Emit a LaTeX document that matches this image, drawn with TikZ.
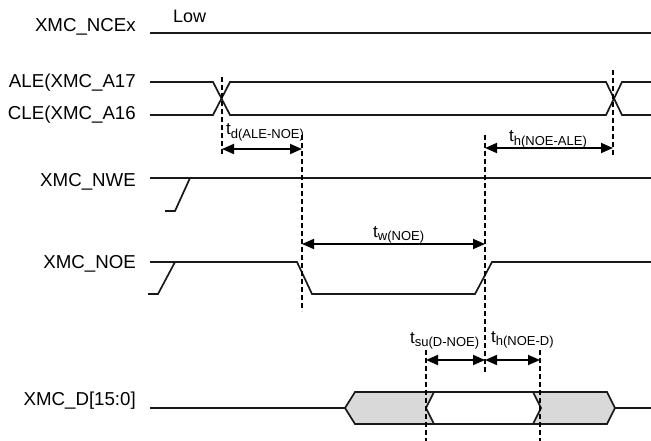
\documentclass[tikz,border=0pt]{standalone}
\usepackage{fontspec}
\setmainfont{Liberation Sans}
\usetikzlibrary{arrows.meta,%
		calc,%
		positioning}
\newcommand{\tpar}[1]{t\raisebox{-3.5pt}{\fontsize{13}{13}\selectfont #1}}
\tikzset{segnale/.style={line width=1.7pt,color=black!90},
	tratt/.style={line width=1.4pt,dash pattern=on 5pt off 3pt},
	quota/.style={line width=1.8pt,{Triangle[length=12pt,width=10pt]}-{Triangle[length=12pt,width=10pt]}},
	nome/.style={anchor=base east,inner sep=0pt,font=\fontsize{18.7}{20}\selectfont},
	tempo/.style={anchor=base west,inner sep=0pt,font=\fontsize{17}{20}\selectfont}}

\begin{document}
\begin{tikzpicture}[x=1pt,y=-1pt]
\useasboundingbox (0,0) rectangle (651,441);
%nomi dei segnali
\node[nome] (nce) at (136,32) {XMC\_NCEx};
\node[nome] (ale) at (136,88) {ALE(XMC\_A17};
\node[nome] (cle) at (136,120) {CLE(XMC\_A16};
\node[nome] (nwe) at (136,186) {XMC\_NWE};
\node[nome] (noe) at (136,268) {XMC\_NOE};
\node[nome] (dat) at (136,405) {XMC\_D[15:0]};
\node[tempo,font=\fontsize{18}{20}\selectfont] (low) at (173,23) {Low};

%segnali
\draw[segnale] (150,33) -- (651,33);
\draw[segnale] (150,82) -- (213,82) -- (230,115) -- (606,115) -- (622,82) -- (651,82);
\draw[segnale] (150,115) -- (213,115) -- (230,82) -- (606,82) -- (622,115) -- (651,115);
\draw[segnale] (150,178) -- (651,178);
\draw[segnale] (165,211) -- (175,211) -- (190,178);
\draw[segnale] (150,262) -- (297,262) -- (312,294) -- (475,294) -- (492,262) -- (651,262);
\draw[segnale] (148,294) -- (158,294) -- (175,262);

%bus dati
\fill[black!15] (345,408) -- (355,392) -- (434,392) -- (426,408) -- (434,424) -- (355,424) -- cycle;
\fill[black!15] (533,392) -- (541,408) -- (533,424) -- (607,424) -- (615,408) -- (607,392) -- cycle;
\draw[segnale] (150,408) -- (345,408) -- (355,392) -- (607,392) -- (615,408) -- (651,408);
\draw[segnale] (345,408) -- (355,424) -- (607,424) -- (615,408);
\draw[segnale] (434,392) -- (426,408) -- (434,424);
\draw[segnale] (533,392) -- (541,408) -- (533,424);

%linee tratteggiate
\draw[tratt] (222,77) -- (222,156);
\draw[tratt] (613,70) -- (613,156);
\draw[tratt] (302,135) -- (302,311);
\draw[tratt] (485,135) -- (485,372);
\draw[tratt] (426,350) -- (426,441);
\draw[tratt] (540,350) -- (540,441);

%quote
\coordinate (a1) at (222,149);
\coordinate (a2) at (302,149);
\coordinate (b1) at (485,148);
\coordinate (b2) at (613,148);
\coordinate (c1) at (302,244);
\coordinate (c2) at (485,244);
\coordinate (d1) at (426,360);
\coordinate (d2) at (485,360);
\coordinate (d3) at (540,360);
\draw[quota] (a1) -- (a2);
\draw[quota] (b1) -- (b2);
\draw[quota] (c1) -- (c2);
\draw[quota] (d1) -- (d2);
\draw[quota] (d2) -- (d3);
\node[tempo] (td) at (226,135) {\tpar{d(ALE-NOE)}};
\node[tempo] (tha) at (509,142) {\tpar{h(NOE-ALE)}};
\node[tempo] (tw) at (373,237) {\tpar{w(NOE)}};
\node[tempo] (tsu) at (410,343) {\tpar{su(D-NOE)}};
\node[tempo] (thd) at (491,342) {\tpar{h(NOE-D)}};
\end{tikzpicture}
\end{document}
